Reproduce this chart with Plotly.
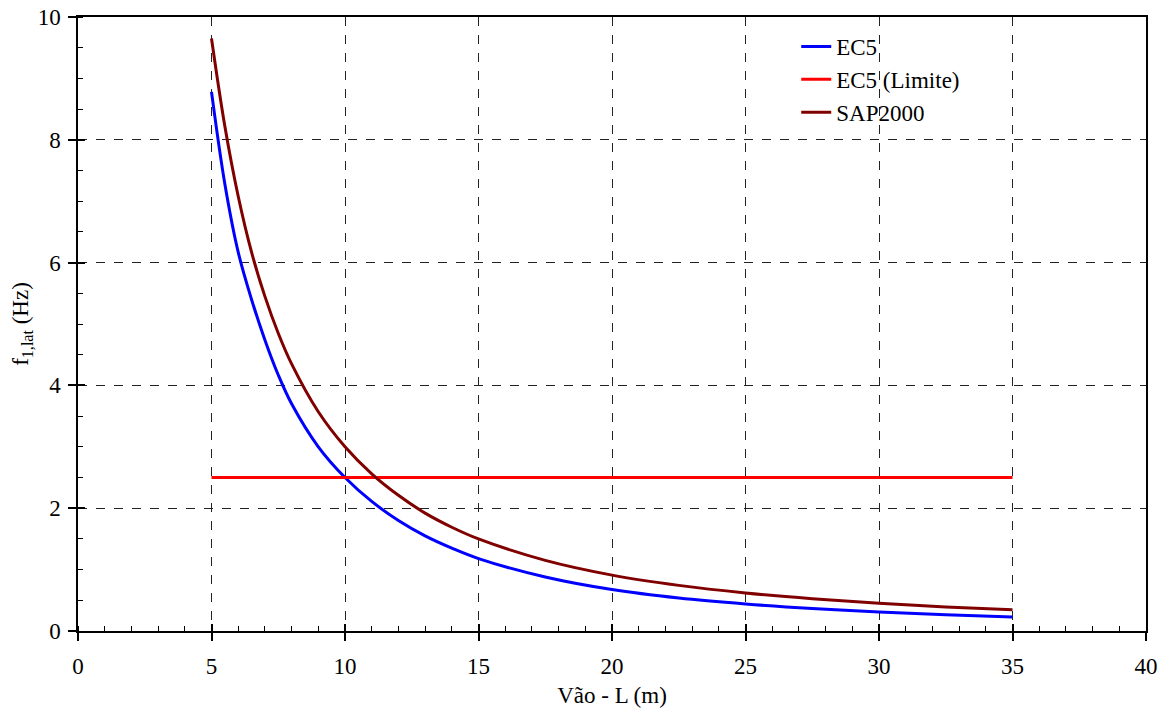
import plotly.graph_objects as go

# span L (m)
vao = [5, 5.5, 6, 6.5, 7, 7.5, 8, 9, 10, 11, 12, 13, 14, 15, 17.5, 20, 22.5, 25, 27.5, 30, 32.5, 35]

# first lateral frequency (Hz)
ec5 = [8.78, 7.28, 6.17, 5.40, 4.74, 4.17, 3.70, 3.0, 2.5, 2.11, 1.80, 1.55, 1.35, 1.18,
       0.88, 0.675, 0.537, 0.44, 0.366, 0.31, 0.265, 0.228]
sap2000 = [9.65, 8.22, 7.08, 6.17, 5.45, 4.85, 4.35, 3.57, 3.0, 2.56, 2.21, 1.92, 1.69, 1.50,
           1.15, 0.91, 0.743, 0.62, 0.526, 0.452, 0.392, 0.345]

limite_x = [5, 35]
limite_y = [2.5, 2.5]

FONT = "Times New Roman, Liberation Serif, serif"
fnt = dict(family=FONT, size=23, color="black")

fig = go.Figure()
fig.add_trace(go.Scatter(x=vao, y=ec5, mode="lines", name="EC5",
                         line=dict(color="#0000FF", width=3, shape="spline", smoothing=1)))
fig.add_trace(go.Scatter(x=limite_x, y=limite_y, mode="lines", name="EC5 (Limite)",
                         line=dict(color="#FF0000", width=3)))
fig.add_trace(go.Scatter(x=vao, y=sap2000, mode="lines", name="SAP2000",
                         line=dict(color="#800000", width=3, shape="spline", smoothing=1)))
# empty trace so the overlay axes (inner half of the major ticks) get drawn
fig.add_trace(go.Scatter(x=[None], y=[None], xaxis="x2", yaxis="y2",
                         showlegend=False, hoverinfo="skip"))

grid = dict(showgrid=True, gridcolor="#222222", griddash="dash", gridwidth=1)

# the page body adds an 8px offset, so the figure is 8px smaller than the window
fig.update_layout(
    width=1159, height=703,
    margin=dict(l=70, r=21, t=9, b=80, autoexpand=False),
    paper_bgcolor="white", plot_bgcolor="white",
    font=fnt,
    showlegend=True,
    legend=dict(x=0.6725, y=0.987, xanchor="left", yanchor="top",
                bgcolor="rgba(0,0,0,0)", font=fnt, tracegroupgap=0),
    xaxis=dict(range=[0, 40], dtick=5, tick0=0, **grid, automargin=False,
               showline=True, linecolor="black", linewidth=1.5, mirror=True,
               ticks="outside", ticklen=8, tickwidth=1.5, tickcolor="black", tickfont=fnt,
               ticklabelstandoff=6, ticklabeloverflow="allow",
               minor=dict(dtick=1, ticks="inside", ticklen=5, tickwidth=1.2, tickcolor="black"),
               zeroline=False,
               title=dict(text="Vão - L (m)", standoff=9, font=fnt)),
    yaxis=dict(range=[0, 10], dtick=2, tick0=0, **grid, automargin=False,
               showline=True, linecolor="black", linewidth=1.5, mirror=True,
               ticks="outside", ticklen=8, tickwidth=1.5, tickcolor="black", tickfont=fnt,
               ticklabelstandoff=3, ticklabeloverflow="allow",
               minor=dict(dtick=0.5, ticks="inside", ticklen=5, tickwidth=1.2, tickcolor="black"),
               zeroline=False,
               title=dict(text="f<sub>1,lat</sub> (Hz)", standoff=14, font=fnt)),
    xaxis2=dict(range=[0, 40], dtick=5, tick0=0, overlaying="x", anchor="y2", side="bottom",
                showgrid=False, showline=False, zeroline=False, showticklabels=False,
                automargin=False,
                ticks="inside", ticklen=7, tickwidth=1.5, tickcolor="black"),
    yaxis2=dict(range=[0, 10], dtick=2, tick0=0, overlaying="y", anchor="x2", side="left",
                showgrid=False, showline=False, zeroline=False, showticklabels=False,
                automargin=False,
                ticks="inside", ticklen=7, tickwidth=1.5, tickcolor="black"),
)

fig.write_html("out.html")
